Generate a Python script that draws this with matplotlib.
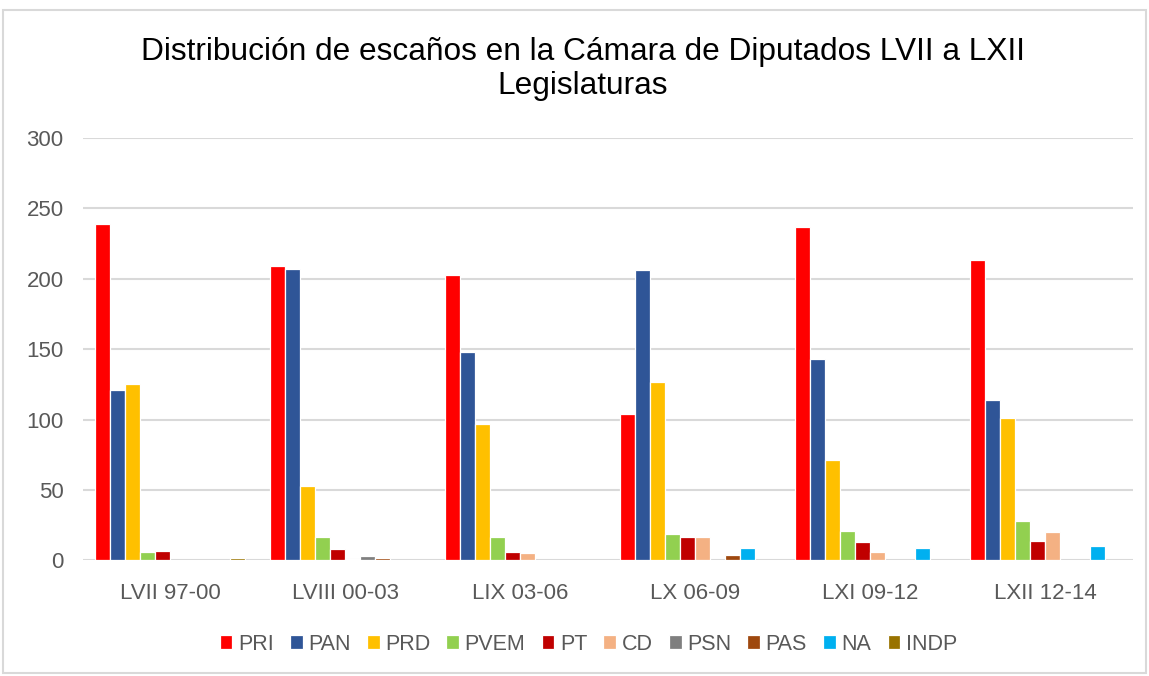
import numpy as np
import matplotlib
matplotlib.use("Agg")
import matplotlib.pyplot as plt
from matplotlib.patches import Rectangle

# Data
legislaturas = ["LVII 97-00", "LVIII 00-03", "LIX 03-06", "LX 06-09", "LXI 09-12", "LXII 12-14"]
partidos = ["PRI", "PAN", "PRD", "PVEM", "PT", "CD", "PSN", "PAS", "NA", "INDP"]

pri = [239, 209, 203, 104, 237, 213]
pan = [121, 207, 148, 206, 143, 114]
prd = [125, 53, 97, 127, 71, 101]
pvem = [6, 17, 17, 19, 21, 28]
pt = [7, 8, 6, 17, 13, 14]
cd = [0, 1, 5, 17, 6, 20]
psn = [0, 3, 0, 0, 0, 0]
pas = [0, 2, 0, 4, 0, 0]
na = [0, 0, 0, 9, 9, 10]
indp = [2, 0, 0, 0, 0, 0]

series = [pri, pan, prd, pvem, pt, cd, psn, pas, na, indp]
colores = ["#FF0000", "#2F5597", "#FFC000", "#92D050", "#C00000",
           "#F4B183", "#7F7F7F", "#9E480E", "#00B0F0", "#997300"]

plt.rcParams["font.family"] = ["Liberation Sans", "DejaVu Sans"]

fig = plt.figure(figsize=(11.49, 6.76), dpi=100)
ax = fig.add_axes([0.0722, 0.1709, 0.9138, 0.625])

x = np.arange(len(legislaturas))
n = len(series)
w = 1.0 / (n + 1.67)

for i, (vals, col, name) in enumerate(zip(series, colores, partidos)):
    # empty seats -> no bar (avoids white edge on the baseline)
    h = [v if v > 0 else np.nan for v in vals]
    ax.bar(x + (i - (n - 1) / 2) * w, h, width=w, color=col,
           edgecolor="white", linewidth=0.9, label=name, zorder=3)

ax.set_xlim(-0.5, len(legislaturas) - 0.5)
ax.set_ylim(0, 300)
ax.set_yticks(range(0, 301, 50))
ax.set_xticks(x)
ax.set_xticklabels(legislaturas)
ax.tick_params(axis="both", length=0, labelsize=16, colors="#595959")
ax.tick_params(axis="x", pad=16)
ax.tick_params(axis="y", pad=14)
ax.grid(axis="y", color="#D9D9D9", linewidth=1.5, zorder=0)
for s in ax.spines.values():
    s.set_visible(False)

fig.text(0.507, 0.898,
         "Distribución de escaños en la Cámara de Diputados LVII a LXII\nLegislaturas",
         ha="center", va="center", fontsize=22.8, color="black", linespacing=1.18)

leg = fig.legend(loc="center", bbox_to_anchor=(0.512, 0.047), ncol=10, frameon=False,
                 fontsize=15.5, handlelength=0.6, handleheight=0.6, handletextpad=0.25,
                 columnspacing=0.75)
for t in leg.get_texts():
    t.set_color("#595959")

# light frame around the chart
fig.patches.append(Rectangle((0.003, 0.004), 0.994, 0.981, transform=fig.transFigure,
                             fill=False, edgecolor="#D9D9D9", linewidth=1.5))

fig.savefig("out.png", dpi=100, facecolor="white")
